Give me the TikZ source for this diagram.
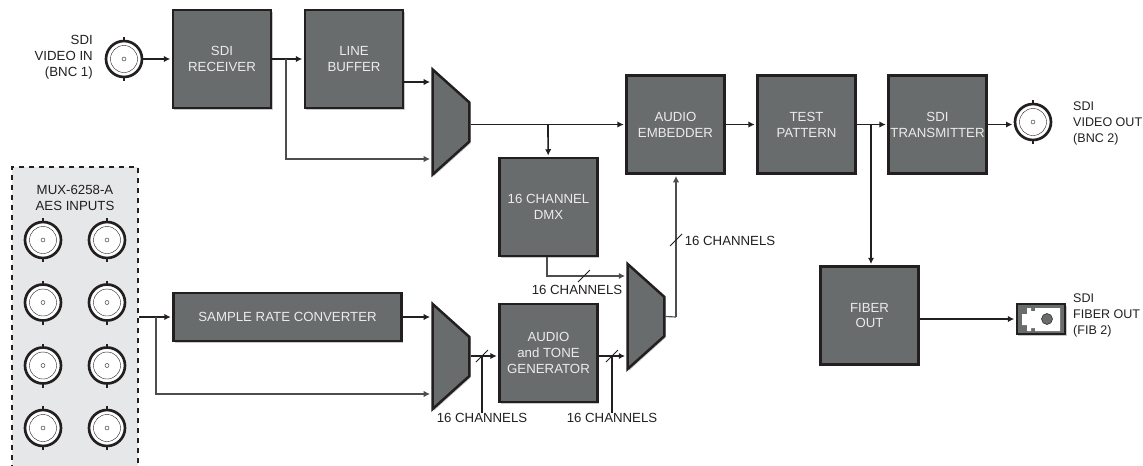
\documentclass[tikz,border=0pt]{standalone}
\usepackage{fontspec}
\setmainfont{Liberation Sans}
\usetikzlibrary{arrows.meta,shadows,shapes.geometric}

\definecolor{blockgray}{HTML}{696C6C}
\definecolor{blockline}{HTML}{231F20}
\definecolor{panelgray}{HTML}{E6E7E8}
\definecolor{wiregray}{HTML}{4D4D4D}

\tikzset{
	softshadow/.style={drop shadow={shadow xshift=0.4mm, shadow yshift=-0.5mm, opacity=0.3, fill=black!70}},
	block/.style={draw=blockline, fill=blockgray, line width=0.75mm, text=white!92!black, align=center, inner sep=0pt, minimum width=2.95cm, minimum height=2.93cm, softshadow, font=\fontsize{11.3}{13.6}\selectfont},
	mux/.style={draw=blockline, fill=blockgray, line width=0.75mm, trapezium, trapezium stretches=true, shape border rotate=270, trapezium left angle=50, trapezium right angle=50, inner sep=1pt, minimum width=3.15cm, minimum height=1.1cm, softshadow},
	lbl/.style={text=blockline, align=center, inner sep=0pt, font=\fontsize{11.3}{13.6}\selectfont},
	sidelbl/.style={lbl, align=left, anchor=west, font=\fontsize{10.7}{13.6}\selectfont},
	sig/.style={draw=blockline, line width=0.5mm, -{Latex[length=1.9mm, width=1.9mm]}, shorten >=0.4mm},
	branch/.style={draw=wiregray, line width=0.35mm, -{Latex[length=1.9mm, width=1.9mm]}, shorten >=0.4mm},
	leader/.style={draw=blockline, line width=0.5mm},
	chtick/.style={draw=blockline, line width=0.25mm},
	bncbody/.style={circle, draw=blockline, fill=white, line width=0.8mm, inner sep=0pt, minimum size=1.08cm},
	aespanel/.style={draw=blockline, fill=panelgray, line width=0.7mm, dash pattern=on 1.5mm off 1.5mm, inner sep=0pt, minimum width=3.78cm, minimum height=9.3cm},
}

\newcommand{\bnc}[2]{
	\draw[blockline, line width=0.5mm] (#2) ++(0,-22) -- ++(0,44);
	\node[bncbody] (#1) at (#2) {};
	\draw[blockline, line width=0.12mm] (#2) circle (13.5);
	\draw[blockline, line width=0.12mm] (#2) circle (2);
}
\newcommand{\tick}[1]{\draw[chtick] (#1) ++(-6,6) -- ++(12,-12);}

\begin{document}
\begin{tikzpicture}[x=0.03cm, y=-0.03cm]
	\useasboundingbox (0,0) rectangle (1143,465);

	\node[aespanel] (aes) at (75,322) {};
	\node[lbl] (aestitle) at (75,197.5) {MUX-6258-A\\AES INPUTS};

	\node[block] (receiver) at (222,59) {SDI\\RECEIVER};
	\node[block] (buffer) at (354,59) {LINE\\BUFFER};
	\node[mux] (mux1) at (451,122) {};
	\node[block] (embedder) at (675.5,124.5) {AUDIO\\EMBEDDER};
	\node[block] (pattern) at (806.5,124.5) {TEST\\PATTERN};
	\node[block] (transmitter) at (937.5,124.5) {SDI\\TRANSMITTER};
	\node[block] (dmx) at (548.5,207) {16 CHANNEL\\DMX};
	\node[block, minimum width=6.85cm, minimum height=1.45cm] (src) at (287.5,317) {SAMPLE RATE CONVERTER};
	\node[mux] (mux2) at (451,356.5) {};
	\node[block] (generator) at (548.5,353) {AUDIO\\and TONE\\GENERATOR};
	\node[mux] (mux3) at (646,316.5) {};
	\node[block] (fiber) at (869.5,315.5) {FIBER\\OUT};

	\bnc{bncin}{124,59}
	\bnc{bncout}{1033,122}
	\bnc{aes1}{43,240}
	\bnc{aes2}{107,240}
	\bnc{aes3}{43,302.5}
	\bnc{aes4}{107,302.5}
	\bnc{aes5}{43,365.5}
	\bnc{aes6}{107,365.5}
	\bnc{aes7}{43,428}
	\bnc{aes8}{107,428}

	\node[draw=blockline, fill=blockgray, line width=0.75mm, inner sep=0pt, minimum width=1.45cm, minimum height=0.9cm, softshadow] (fibout) at (1041,319) {};
	\fill[white] (1060,308) -- (1035,308) -- (1035,311) -- (1031,311) -- (1031,308) -- (1027,308) -- (1027,314) -- (1022,314) -- (1022,325) -- (1027,325) -- (1027,331) -- (1031,331) -- (1031,328) -- (1035,328) -- (1035,331) -- (1060,331) -- cycle;
	\draw[fill=blockgray, draw=blockline, line width=0.15mm] (1047,319) circle (5.5);

	\node[lbl, align=right, anchor=east] (lblin) at (93,57.5) {SDI\\VIDEO IN\\(BNC 1)};
	\node[sidelbl] (lblout) at (1073,123) {SDI\\VIDEO OUT\\(BNC 2)};
	\node[sidelbl] (lblfib) at (1073,315) {SDI\\FIBER OUT\\(FIB 2)};

	\coordinate (j1) at (286,59);
	\coordinate (j2) at (548,124.5);
	\coordinate (j3) at (871,124.5);
	\coordinate (j4) at (156,317);
	\coordinate (j5) at (676,317);
	\coordinate (j6) at (547,276);
	\coordinate (t1) at (676,240);
	\coordinate (t2) at (584,276);
	\coordinate (t3) at (482,356);
	\coordinate (t4) at (612,356);

	\draw[sig] (bncin) -- (receiver);
	\draw[sig] (receiver) -- (buffer);
	\draw[branch] (j1) |- (mux1.west |- 0,159);
	\draw[sig] (buffer.east |- 0,82) -- (mux1.west |- 0,82);
	\draw[sig] (mux1.east |- embedder) -- (embedder);
	\draw[sig] (j2) -- (dmx);
	\draw[sig] (embedder) -- (pattern);
	\draw[sig] (pattern) -- (transmitter);
	\draw[sig] (transmitter) -- (bncout.west |- transmitter);
	\draw[sig] (j3) -- (fiber.north -| j3);
	\draw[sig] (fiber.east |- fibout) -- (fibout);
	\draw[sig] (aes.east |- src) -- (src);
	\draw[branch] (j4) |- (mux2.west |- 0,394);
	\draw[sig] (src.east) -- (mux2.west |- src);
	\draw[sig] (mux2.east |- 0,356) -- (generator.west |- 0,356);
	\draw[sig] (generator.east |- 0,356) -- (mux3.west |- 0,356);
	\draw[branch] (dmx.south -| j6) |- (mux3.west |- j6);
	\draw[draw=wiregray, line width=0.35mm] (mux3.east) -- (j5);
	\draw[branch] (j5) -- (embedder.south -| j5);

	\node[lbl] (ch1) at (730,241) {16 CHANNELS};
	\node[lbl] (ch2) at (577,290) {16 CHANNELS};
	\node[lbl] (ch3) at (482,418) {16 CHANNELS};
	\node[lbl] (ch4) at (612,418) {16 CHANNELS};
	\draw[leader] (t3) -- (ch3.north);
	\draw[leader] (t4) -- (ch4.north);
	\tick{t1}
	\tick{t2}
	\tick{t3}
	\tick{t4}
\end{tikzpicture}
\end{document}
